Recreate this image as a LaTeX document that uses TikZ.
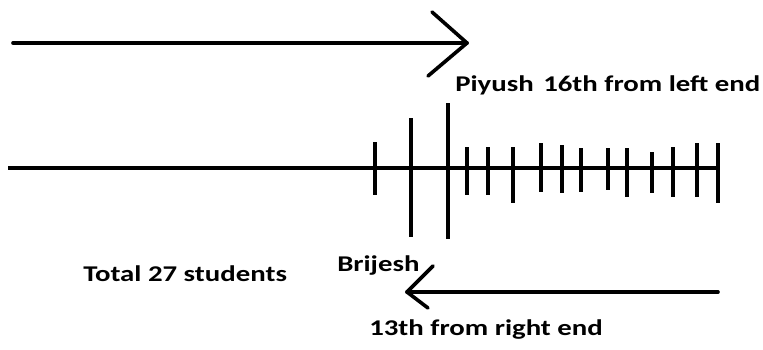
\documentclass[tikz,border=0pt]{standalone}
\usepackage{fontspec}
\setmainfont{Carlito}
\begin{document}
\begin{tikzpicture}[x=1pt,y=-1pt,
  ink/.style={line width=3.6pt,line cap=round,line join=round},
  lbl/.style={font=\fontsize{22.5}{24}\selectfont\bfseries,xscale=1.28,inner sep=0pt,anchor=base west},
  tick/.style={line width=3.6pt}]
\useasboundingbox (0,0) rectangle (763,349);

% upper direction arrow (left to right)
\coordinate (ua) at (13,43);
\coordinate (ub) at (467,43);
\draw[ink] (ua) -- (ub);
\draw[ink] (432,12) -- (ub) -- (428,76);

% main line of students
\coordinate (ml) at (8,168);
\coordinate (mr) at (718,168);
\draw[ink,line cap=butt] (ml) -- (mr);

% ticks: x, top, bottom
\foreach \x/\t/\b in {375/142/195, 467/147/195, 488/147/195, 513/147/203,
  541/143/192, 562/145/193, 581/148/192, 608/148/190, 627/148/197,
  652/152/193, 673/147/197, 697/143/197, 718/143/203}
  \draw[tick] (\x,\t) -- (\x,\b);
% Brijesh and Piyush marks
\coordinate (bt) at (411,118);
\coordinate (bb) at (411,237);
\coordinate (pt) at (448,103);
\coordinate (pb) at (448,239);
\draw[tick] (bt) -- (bb);
\draw[tick] (pt) -- (pb);

% lower direction arrow (right to left)
\coordinate (la) at (718,292);
\coordinate (lb) at (407,292);
\draw[ink] (la) -- (lb);
\draw[ink] (433,266) -- (lb) -- (428,308);

% labels
\node[lbl] (piyush) at (455,91) {Piyush};
\node[lbl] (left) at (543,91) {16th from left end};
\node[lbl] (brijesh) at (337,271) {Brijesh};
\node[lbl] (total) at (83,281) {Total 27 students};
\node[lbl] (right) at (369,335) {13th from right end};
\end{tikzpicture}
\end{document}
